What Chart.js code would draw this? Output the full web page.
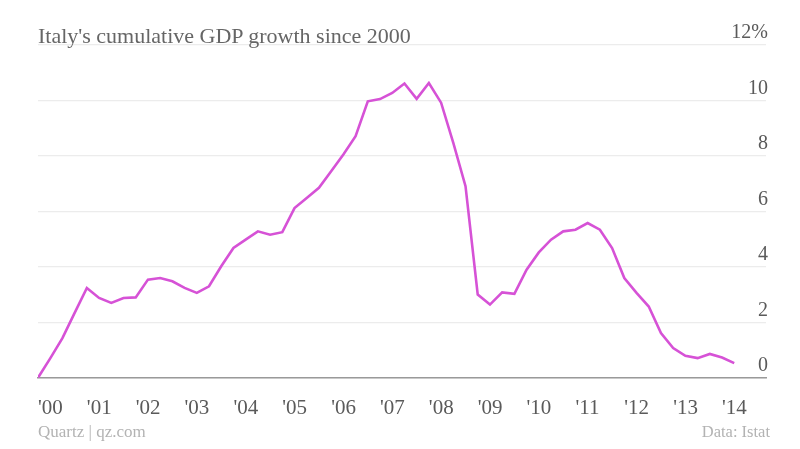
<!DOCTYPE html>
<html>
<head>
<meta charset="utf-8">
<script src="https://cdn.jsdelivr.net/npm/chart.js@4.4.1/dist/chart.umd.min.js"></script>
<style>
  html, body { margin: 0; padding: 0; background: #fff; }
  #wrap { position: relative; width: 800px; height: 449px; }
  #c { position: absolute; left: 0; top: 0; }
  .txt { position: absolute; font-family: "Liberation Serif", serif; white-space: nowrap; }
  #title { left: 38px; top: 23px; font-size: 22px; color: #666666; }
  #src { left: 38px; top: 422px; font-size: 17px; color: #b3b3b3; }
  #data { right: 30px; top: 422px; font-size: 16.5px; color: #b3b3b3; }
</style>
</head>
<body>
<div id="wrap">
  <canvas id="c" width="800" height="449"></canvas>
  <div id="title" class="txt">Italy's cumulative GDP growth since 2000</div>
  <div id="src" class="txt">Quartz | qz.com</div>
  <div id="data" class="txt">Data: Istat</div>
</div>
<script>
// Quarterly periods, 2000 Q1 to 2014 Q2
const startYear = 2000;
const quarters = [];
for (let y = 2000; y <= 2014; y++) {
  for (let q = 1; q <= 4; q++) {
    if (y === 2014 && q > 2) break;
    quarters.push(y + " Q" + q);
  }
}
// Cumulative GDP growth since 2000 (%)
const growth = [
  0.00, 0.70, 1.43, 2.34, 3.24, 2.88, 2.70, 2.88, 2.90, 3.54,
  3.60, 3.48, 3.24, 3.06, 3.30, 4.02, 4.68, 4.98, 5.28, 5.16,
  5.25, 6.12, 6.48, 6.85, 7.45, 8.05, 8.71, 9.97, 10.05, 10.27,
  10.61, 10.06, 10.63, 9.92, 8.47, 6.91, 3.00, 2.64, 3.08, 3.03,
  3.90, 4.52, 4.98, 5.28, 5.34, 5.58, 5.34, 4.68, 3.60, 3.06,
  2.57, 1.61, 1.07, 0.79, 0.71, 0.86, 0.73, 0.53
];
const yTicks = [0, 2, 4, 6, 8, 10, 12];

const points = growth.map((v, i) => {
  const parts = quarters[i].split(" Q");
  return { x: Number(parts[0]) + (Number(parts[1]) - 1) / 4, y: v };
});

const serif = "'Liberation Serif', serif";

new Chart(document.getElementById('c'), {
  type: 'line',
  data: {
    datasets: [{
      data: points,
      borderColor: 'rgb(214, 82, 214)',
      borderWidth: 2.6,
      pointRadius: 0,
      tension: 0,
      fill: false
    }]
  },
  options: {
    responsive: false,
    animation: false,
    layout: { padding: { left: 38, right: 30, top: 45, bottom: 10 } },
    plugins: { legend: { display: false }, tooltip: { enabled: false } },
    scales: {
      x: {
        type: 'linear',
        min: 2000,
        max: 2014.9,
        grid: { display: false, drawTicks: false },
        border: { display: true, color: '#9a9a9a', width: 1.5 },
        afterBuildTicks: (axis) => {
          const t = [];
          for (let y = startYear; y <= 2014; y++) t.push({ value: y });
          axis.ticks = t;
        },
        ticks: {
          align: 'start',
          padding: 18,
          maxRotation: 0,
          autoSkip: false,
          color: '#5a5a5a',
          font: { family: serif, size: 21 },
          callback: (v) => "'" + String(v).slice(2)
        }
      },
      y: {
        position: 'right',
        min: 0,
        max: 12,
        afterBuildTicks: (axis) => { axis.ticks = yTicks.map(v => ({ value: v })); },
        grid: { color: '#ececec', lineWidth: 1.2, drawTicks: false },
        border: { display: false },
        ticks: {
          mirror: true,
          padding: 2,
          labelOffset: -12,
          color: '#5a5a5a',
          font: { family: serif, size: 20 },
          callback: (v) => v === 12 ? '12%' : String(v)
        }
      }
    }
  }
});
</script>
</body>
</html>
